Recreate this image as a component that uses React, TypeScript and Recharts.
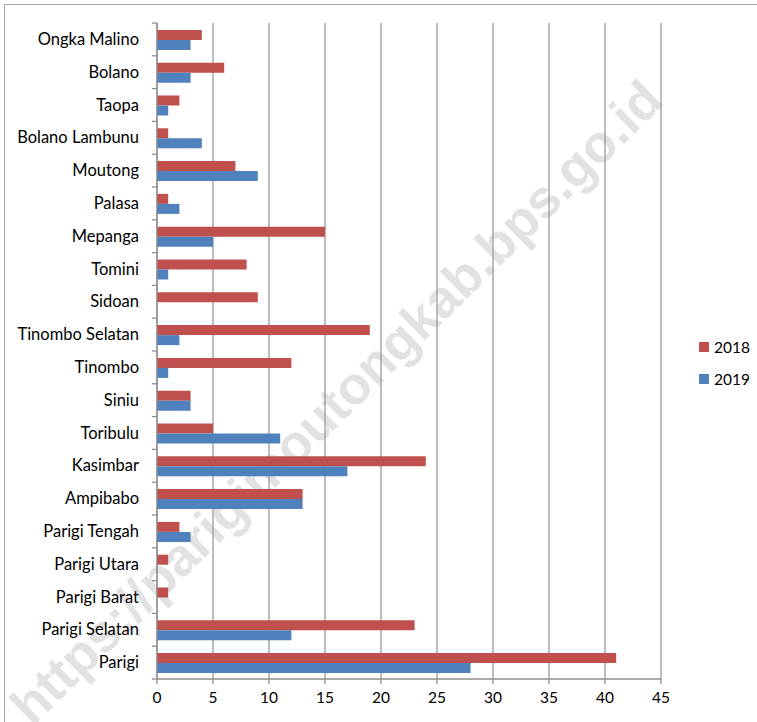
import React from 'react';
import { BarChart, Bar, XAxis, YAxis, CartesianGrid, Legend } from 'recharts';

const categories = [
  'Ongka Malino', 'Bolano', 'Taopa', 'Bolano Lambunu', 'Moutong', 'Palasa', 'Mepanga', 'Tomini',
  'Sidoan', 'Tinombo Selatan', 'Tinombo', 'Siniu', 'Toribulu', 'Kasimbar', 'Ampibabo',
  'Parigi Tengah', 'Parigi Utara', 'Parigi Barat', 'Parigi Selatan', 'Parigi',
];
const values2018 = [4, 6, 2, 1, 7, 1, 15, 8, 9, 19, 12, 3, 5, 24, 13, 2, 1, 1, 23, 41];
const values2019 = [3, 3, 1, 4, 9, 2, 5, 1, 0, 2, 1, 3, 11, 17, 13, 3, 0, 0, 12, 28];
const xTicks = [0, 5, 10, 15, 20, 25, 30, 35, 40, 45];
const watermark = 'https://parigimoutongkab.bps.go.id';

const data = categories.map((name, i) => ({ name, y2018: values2018[i], y2019: values2019[i] }));

const FONT = 'Lato, "Open Sans", sans-serif';
const AXIS = '#8e8e8e';

const YTick = (props: any) => {
  const { x, y, payload, index, visibleTicksCount } = props;
  const half = payload && payload.offset ? payload.offset : 16.4;
  const ax = x + 18;
  return (
    <g>
      <line x1={ax - 5} x2={ax} y1={y - half} y2={y - half} stroke={AXIS} strokeWidth={1.3} />
      {index === visibleTicksCount - 1 && (
        <line x1={ax - 5} x2={ax} y1={y + half} y2={y + half} stroke={AXIS} strokeWidth={1.3} />
      )}
      <text x={x} y={y} dy={5.5} textAnchor="end" fontFamily={FONT} fontSize={16.5} fill="#000">
        {payload.value}
      </text>
    </g>
  );
};

const LegendContent = (props: any) => {
  const { payload } = props;
  return (
    <div style={{ fontFamily: FONT, fontSize: 15.5, color: '#000' }}>
      {(payload || []).map((p: any) => (
        <div key={p.value} style={{ display: 'flex', alignItems: 'center', height: 32 }}>
          <span style={{ display: 'inline-block', width: 10, height: 10, background: p.color, marginRight: 5 }} />
          <span>{p.value}</span>
        </div>
      ))}
    </div>
  );
};

export default function App() {
  return (
    <div style={{ position: 'absolute', left: 0, top: 0, width: 757, height: 722, background: '#fff', overflow: 'hidden' }}>
      <div style={{ position: 'absolute', left: 4, top: 4, width: 780, height: 760, border: '1px solid #a8a8a8' }} />
      <div
        style={{
          position: 'absolute',
          left: 336,
          top: 402,
          transform: 'translate(-50%, -50%) rotate(-44.6deg)',
          fontFamily: '"Liberation Sans", Arial, sans-serif',
          fontWeight: 'bold',
          fontSize: 53,
          color: '#e2e2e2',
          whiteSpace: 'nowrap',
        }}
      >
        {watermark}
      </div>
      <div style={{ position: 'absolute', left: 0, top: 0 }}>
        <BarChart
          width={757}
          height={722}
          data={data}
          layout="vertical"
          margin={{ top: 23, right: 96, bottom: 0, left: 0 }}
          barCategoryGap="21%"
          barGap={0}
        >
          <CartesianGrid horizontal={false} vertical={true} stroke="#9a9a9a" strokeWidth={1.3} />
          <XAxis
            type="number"
            domain={[0, 45]}
            ticks={xTicks}
            interval={0}
            height={43}
            tickSize={5}
            tickMargin={8}
            axisLine={{ stroke: AXIS, strokeWidth: 1.3 }}
            tickLine={{ stroke: AXIS, strokeWidth: 1.3 }}
            tick={{ fontFamily: FONT, fontSize: 15.5, fill: '#000' }}
          />
          <YAxis
            type="category"
            dataKey="name"
            width={157}
            interval={0}
            tickSize={5}
            tickMargin={13}
            tickLine={false}
            axisLine={{ stroke: AXIS, strokeWidth: 1.3 }}
            tick={<YTick />}
          />
          <Legend
            layout="vertical"
            align="center"
            verticalAlign="middle"
            content={<LegendContent />}
            wrapperStyle={{ left: 699, top: 331, width: 60 }}
          />
          <Bar dataKey="y2018" name="2018" fill="#C0504D" isAnimationActive={false} />
          <Bar dataKey="y2019" name="2019" fill="#4F81BD" isAnimationActive={false} />
        </BarChart>
      </div>
    </div>
  );
}
